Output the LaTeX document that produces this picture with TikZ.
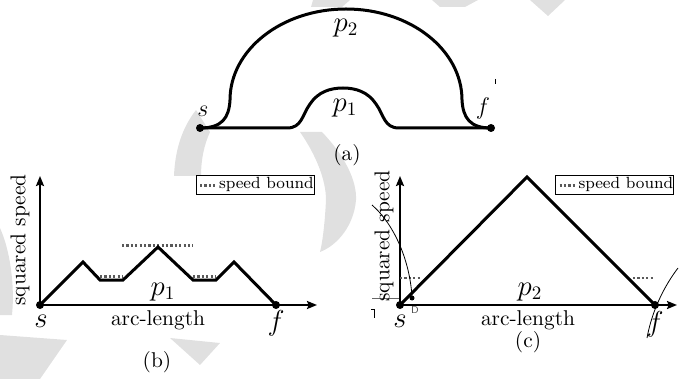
\documentclass[tikz,border=0pt]{standalone}
\usetikzlibrary{arrows.meta}
\newcommand{\subtxt}[1]{\mbox{\fontsize{9.5}{10}\selectfont #1}}
\begin{document}
\begin{tikzpicture}[x=0.5pt,y=-0.5pt,
  every node/.style={inner sep=0pt,outer sep=0pt},
  lab/.style={font=\fontsize{10.7}{13}\selectfont},
  mla/.style={font=\fontsize{12.5}{15}\selectfont},
  mlb/.style={font=\fontsize{14.5}{17}\selectfont},
  mlp/.style={font=\fontsize{13.5}{16}\selectfont},
  leg/.style={font=\fontsize{8.1}{9}\selectfont},
  curve/.style={line width=1.5pt,line cap=round,line join=round},
  axis/.style={line width=1pt,-{Stealth[length=5pt,width=4pt,inset=0.8pt]}},
  prof/.style={line width=1.5pt,line join=miter},
  bound/.style={line width=1.2pt,draw=black!65,dash pattern=on 1.1pt off 1.1pt},
  legbox/.style={draw,line width=0.5pt,fill=white,minimum width=59pt,minimum height=9.5pt},
  wm/.style={fill=black!12,draw=none},
  dot/.style={circle,fill,minimum size=4pt},
  stray/.style={line width=0.4pt}
]
\useasboundingbox (0,0) rectangle (684,379);
% watermark
\fill[wm] (313,0) -- (350,0) -- (342,7) -- (311,7) -- cycle;
\fill[wm] (432,0) -- (478,0) -- (465,7) -- (440,7) -- cycle;
\fill[wm] (530,0) -- (565,0) -- (548,16) -- cycle;
\fill[wm] (196,110) .. controls (182,128) and (175,150) .. (174,176) -- (201,176) .. controls (201,160) and (204,145) .. (210,132) -- cycle;
\fill[wm] (300,132) .. controls (316,155) and (326,180) .. (326,200) .. controls (325,220) and (323,240) .. (320,252) .. controls (338,245) and (354,225) .. (356,200) .. controls (357,180) and (344,155) .. (322,132) -- cycle;
\fill[wm] (0,228) .. controls (10,250) and (15,285) .. (12,315) -- (0,315) -- cycle;
\fill[wm] (0,335) -- (67,340) -- (40,379) -- (0,379) -- cycle;
\fill[wm] (170,338) -- (220,343) -- (200,365) -- cycle;

% (a)
\node[dot] (sa) at (200,128) {};
\node[dot] (fa) at (491,128) {};
\draw[curve] (sa.center) -- (287,128) .. controls (302,128) and (302,115) .. (310,104) .. controls (318,92) and (330,88) .. (343,88) .. controls (356,88) and (368,92) .. (376,104) .. controls (384,115) and (384,128) .. (399,128) -- (fa.center);
\draw[curve] (sa.center) .. controls (222,128) and (229,118) .. (230,100) arc[start angle=180,end angle=360,x radius=116,y radius=91] .. controls (463,118) and (470,128) .. (fa.center);
\node[mla] (sal) at (203,111) {$s$};
\node[mla] (fal) at (483,109) {$f$};
\node[mlp] (p2a) at (346,28) {$p_{\subtxt{2}}$};
\node[mlp] (p1a) at (345,108) {$p_{\subtxt{1}}$};
\node[lab] (capa) at (347,155) {(a)};
\coordinate (ta1) at (495,79);
\coordinate (ta2) at (495,84);
\draw[stray] (ta1) -- (ta2);

% (b)
\node[dot] (sb) at (40,305) {};
\node[dot] (fb) at (276,305) {};
\coordinate (yb) at (40,176);
\coordinate (xb) at (317,305);
\draw[axis] (sb.center) -- (yb);
\draw[axis] (sb.center) -- (xb);
\draw[bound] (122,245.5) -- (193,245.5);
\draw[bound] (100,276.5) -- (123,276.5);
\draw[bound] (193,276.5) -- (216,276.5);
\draw[prof] (sb.center) -- (83,262) -- (100,280) -- (123,280) -- (158,247) -- (193,280) -- (216,280) -- (234,262) -- (fb.center);
\node[legbox] (legb) at (255,185.5) {};
\draw[bound] ([xshift=2pt]legb.west) -- ([xshift=9.5pt]legb.west);
\node[leg,anchor=west] (legbt) at ([xshift=11.5pt,yshift=0.3pt]legb.west) {speed bound};
\node[lab,rotate=90] (ylb) at (20,240) {squared speed};
\node[mlb] (slb) at (41,321) {$s$};
\node[mlb] (flb) at (276,323) {$f$};
\node[lab] (xlb) at (158,320) {arc-length};
\node[mlp] (p1b) at (163,292) {$p_{\subtxt{1}}$};
\node[lab] (capb) at (157,362) {(b)};

% (c)
\node[dot] (sc) at (400,305) {};
\node[dot] (fc) at (655,305) {};
\coordinate (yc) at (400,176);
\coordinate (xc) at (677,305);
\coordinate (pk) at (527,177);
\draw[stray,draw=black!60,line width=0.5pt] (372,298) -- (400,298);
\draw[axis] (sc.center) -- (yc);
\draw[axis] (sc.center) -- (xc);
\draw[bound] (400,278) -- (420,278);
\draw[bound] (633,278) -- (653,278);
\draw[prof] (sc.center) -- (pk) -- (fc.center);
\node[legbox] (legc) at (614.5,185.5) {};
\draw[bound] ([xshift=2pt]legc.west) -- ([xshift=9.5pt]legc.west);
\node[leg,anchor=west] (legct) at ([xshift=11.5pt,yshift=0.3pt]legc.west) {speed bound};
\node[lab,rotate=90] (ylc) at (384,236) {squared speed};
\node[mlb] (slc) at (400,321) {$s$};
\node[mlb] (flc) at (655,324) {$f$};
\node[lab] (xlc) at (528,320) {arc-length};
\node[mlp] (p2c) at (530,292) {$p_{\subtxt{2}}$};
\node[lab] (capc) at (528,342) {(c)};
\draw[stray] (372,205) .. controls (395,225) and (410,262) .. (412,297);
\node[circle,fill,minimum size=2.5pt] (dd) at (412,298) {};
\node[font=\sffamily\fontsize{5}{5}\selectfont,text=black!70] (dl) at (415,310) {D};
\coordinate (tk1) at (374,309);
\coordinate (tk2) at (374,318);
\coordinate (tk3) at (371,309);
\draw[stray] (tk1) -- (tk2);
\draw[stray] (tk3) -- (tk1);
\draw[stray] (678,268) .. controls (665,285) and (652,310) .. (647,338);
\end{tikzpicture}
\end{document}
